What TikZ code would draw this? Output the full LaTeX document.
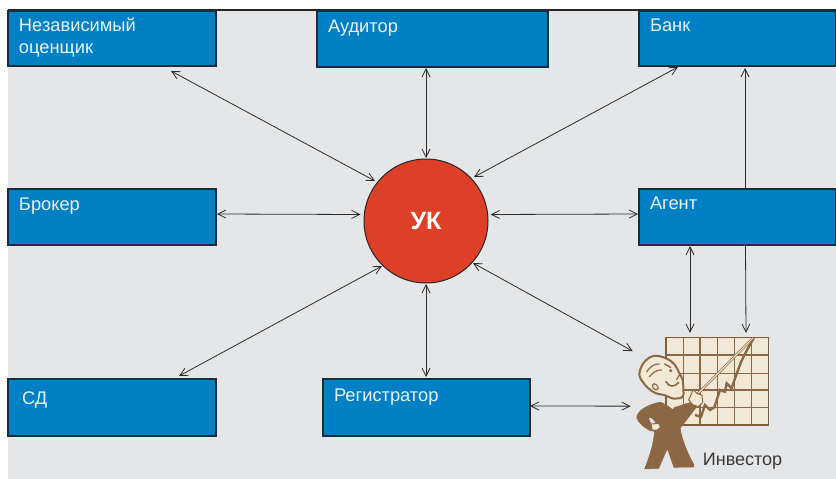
\documentclass[tikz,border=0pt]{standalone}
\usepackage{fontspec}
\setmainfont{Liberation Sans}
\usetikzlibrary{arrows.meta,calc}
\definecolor{bgc}{HTML}{E5E6E8}
\definecolor{boxc}{HTML}{0080C4}
\definecolor{boxl}{HTML}{1B2C3C}
\definecolor{ukc}{HTML}{DD4027}
\definecolor{lnc}{HTML}{2B2B2B}
\definecolor{crm}{HTML}{F1E9D6}
\definecolor{brn}{HTML}{8C6744}
\definecolor{txtw}{HTML}{E8F3FA}
\newcommand{\boxtxt}[4]{\parbox[c][#2pt][t]{#1pt}{\vspace*{#3pt}\strut #4\strut}}
\tikzset{
  bluebox/.style={draw=boxl,line width=1.25pt,fill=boxc,text=txtw,anchor=north west,inner xsep=11pt,inner ysep=0pt,outer sep=0pt,
    font=\fontsize{18.3}{22}\selectfont,align=left},
  arr/.style={draw=lnc,line width=.8pt,Straight Barb-Straight Barb,arrows={[length=8pt,width=8pt,line width=.8pt]}},
  arre/.style={draw=lnc,line width=.8pt,-Straight Barb,arrows={[length=8pt,width=8pt,line width=.8pt]}},
  manfill/.style={fill=brn,draw=brn,line width=.5pt,line join=round},
  manskin/.style={fill=crm,draw=brn,line width=2pt,line join=round},
  manline/.style={draw=brn,line width=1.2pt,line cap=round},
}
\begin{document}
\begin{tikzpicture}[x=1pt,y=-1pt]
\useasboundingbox (0,0) rectangle (836,479);
\fill[bgc] (8,10) rectangle (836,479);
\draw[draw=black!85,line width=2pt] (8,10) -- (836,10);

\node[bluebox] (nez) at (8,11) {\boxtxt{186}{55}{4.6}{Независимый\\оценщик}};
\node[bluebox] (aud) at (317,11) {\boxtxt{209}{56}{5.6}{Аудитор}};
\node[bluebox] (bank) at (639,11) {\boxtxt{175}{55}{4.6}{Банк}};
\node[bluebox] (brok) at (8,189) {\boxtxt{186}{56}{5.6}{Брокер}};
\node[bluebox] (agent) at (639,189) {\boxtxt{175}{56}{4.6}{Агент}};
\node[bluebox] (sd) at (8,379) {\boxtxt{186}{57}{9.6}{\hspace*{3pt}СД}};
\node[bluebox] (reg) at (323,379) {\boxtxt{185}{57}{6.6}{Регистратор}};

\node[circle,draw=black!85,line width=1pt,fill=ukc,text=white,minimum size=124pt,inner sep=0pt,outer sep=0pt,
  font=\fontsize{25}{25}\selectfont\bfseries] (uk) at (426,221) {УК};

% chart (investor)
\node[draw=brn!90!black,line width=1.6pt,fill=crm,minimum width=102.6pt,minimum height=87.7pt,inner sep=0pt,outer sep=0pt,anchor=north west] (inv) at (665.7,337.3) {};
\foreach \xx in {683.3,700,717.7,734.3,751.7} \draw[brn,line width=1.5pt] (\xx,337.3) -- (\xx,425);
\foreach \yy in {355,373.3,390,407.3} \draw[brn,line width=1.5pt] (665.7,\yy) -- (768.3,\yy);
% rising line
\draw[brn,line width=2.4pt,line join=miter] (695,415) -- (701,416.7) -- (705,405) -- (710,410) -- (714.3,407.3) -- (720,390) -- (725,391.7) -- (726.7,383.3) -- (731.7,388.3) -- (735,378.3) -- (741,362) -- (747,350) -- (754,337.5);

% man
\begin{scope}[x=.3333pt,y=-.3333pt,shift={(630pt,-340pt)}]
 \fill[manfill,draw=brn] (92,186) .. controls (105,193) and (118,203) .. (132,203)
   -- (178,188) -- (200,200) -- (162,250) -- (152,262) -- (152,275)
   .. controls (160,310) and (177,350) .. (192,374) -- (192,381) -- (132,382)
   -- (112,326) -- (86,385) -- (44,387) .. controls (58,350) and (68,320) .. (72,290)
   -- (74,274) -- (60,272) .. controls (42,262) and (24,248) .. (20,232)
   .. controls (24,213) and (45,196) .. (92,186) -- cycle;
 \fill[bgc] (57,234) .. controls (64,232) and (72,240) .. (78,252) -- (66,254) .. controls (62,246) and (58,240) .. (57,234) -- cycle;
 \draw[manskin,line width=1pt] (63,252) -- (86,250) -- (92,262) -- (80,271) -- (66,270) -- cycle;
 \fill[crm] (112,190) -- (135,198) -- (128,207) -- (118,200) -- cycle;
 % head
 \draw[manskin] plot[smooth cycle,tension=.65] coordinates {(28,104) (40,70) (70,48) (108,55) (134,74) (148,100) (158,120) (160,150) (158,170) (132,176) (102,165) (78,160) (55,145) (38,125)};
 \draw[manline] (50,95) .. controls (60,80) and (75,70) .. (88,72);
 \draw[manline] (58,110) .. controls (68,98) and (82,88) .. (95,90);
 \draw[manline] (80,135) .. controls (68,122) and (60,145) .. (78,150) .. controls (85,150) and (88,142) .. (82,138);
 \draw[manline,line width=1.6pt] (108,125) .. controls (118,142) and (132,142) .. (146,128);
 \draw[manline,line width=1.4pt] (104,72) -- (122,82);
 \fill[brn] (122,92) circle[radius=5];
 \draw[manline] (148,106) -- (140,118);
 % pointer
 \draw[brn,line width=2.4pt] (185,180) -- (369,-6);
 \draw[crm,line width=1pt] (185,180) -- (369,-6);
 % hand
 \draw[manskin,line width=1pt] (176,180) -- (190,148) -- (200,160) -- (216,166) -- (218,188) -- (204,200) -- (188,194) -- cycle;
\end{scope}

\node[anchor=base west,inner sep=0pt,text=black!78,font=\fontsize{18}{18}\selectfont] (invlab) at (702.7,465) {Инвестор};

% connectors
\draw[arr] ($(nez.south west)+(163,5)$) -- ($(uk)+(-51,-40)$);
\draw[arr] ($(aud.south)+(-6.5,1)$) -- ($(uk)+(0,-63)$);
\draw[arr] ($(bank.south west)+(39,1)$) -- ($(uk)+(48,-44)$);
\draw[arr] ($(brok.east)+(1,-3)$) -- ($(uk)+(-65.5,-6.5)$);
\draw[arr] ($(agent.west)+(-1,-3)$) -- ($(uk)+(64.7,-6.5)$);
\draw[arre] ($(agent.north)+(7.5,0)$) -- ($(bank.south)+(7.5,2)$);
\draw[arr] ($(agent.south)+(-47.5,1)$) -- ($(inv.north)+(-27,-4.5)$);
\draw[arre] ($(agent.south)+(8,0)$) -- ($(inv.north)+(29,-4.5)$);
\draw[arr] ($(sd.north west)+(171,-3)$) -- ($(uk)+(-44,45)$);
\draw[arr] ($(reg.north)+(-.5,-2)$) -- ($(uk)+(0,63)$);
\draw[arr] ($(uk)+(47,42)$) -- ($(inv.west)+(-33,-30)$);
\draw[arr] ($(reg.east)+(0,-1.5)$) -- ($(inv.west)+(-35,25)$);
\end{tikzpicture}
\end{document}
